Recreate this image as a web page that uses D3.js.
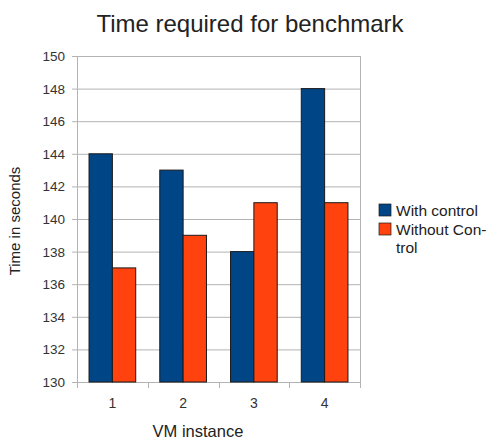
<!DOCTYPE html>
<html>
<head>
<meta charset="utf-8">
<script src="https://cdn.jsdelivr.net/npm/d3@7"></script>
<style>
  html, body { margin: 0; padding: 0; background: #fff; }
  svg { display: block; font-family: "Liberation Sans", Arial, sans-serif; }
</style>
</head>
<body>
<svg id="chart" width="493" height="441"></svg>
<script>
// Benchmark timings per VM instance
const categories = ["1", "2", "3", "4"];
const withControl = [144, 143, 138, 148];
const withoutControl = [137, 139, 141, 141];
const seriesNames = ["With control", "Without Control"];
const yTicks = [130, 132, 134, 136, 138, 140, 142, 144, 146, 148, 150];

const colors = ["#004586", "#ff420e"];
const svg = d3.select("#chart");

const plot = { left: 77, right: 360, top: 56, bottom: 382 };

const x = d3.scaleBand().domain(categories).range([plot.left, plot.right]).paddingInner(0.34).paddingOuter(0.17);
const xSub = d3.scaleBand().domain([0, 1]).range([0, x.bandwidth()]);
const y = d3.scaleLinear().domain([130, 150]).range([plot.bottom, plot.top]);

// horizontal grid with outward ticks
svg.append("g").selectAll("line").data(yTicks).join("line")
  .attr("x1", plot.left - 5).attr("x2", plot.right)
  .attr("y1", d => y(d) + 0.5).attr("y2", d => y(d) + 0.5)
  .attr("stroke", "#b3b3b3").attr("stroke-width", 1);

// vertical frame lines
[plot.left, plot.right].forEach(px => {
  svg.append("line").attr("x1", px + 0.5).attr("x2", px + 0.5)
    .attr("y1", plot.top).attr("y2", plot.bottom + 6)
    .attr("stroke", "#b3b3b3");
});

// category boundary ticks
const bounds = categories.slice(1).map(c => x(c) - x.step() * x.paddingInner() / 2);
svg.append("g").selectAll("line").data(bounds).join("line")
  .attr("x1", d => Math.round(d) + 0.5).attr("x2", d => Math.round(d) + 0.5)
  .attr("y1", plot.bottom).attr("y2", plot.bottom + 6)
  .attr("stroke", "#b3b3b3");

// y tick labels
svg.append("g").selectAll("text").data(yTicks).join("text")
  .attr("x", 65).attr("y", d => y(d) + 5)
  .attr("text-anchor", "end").attr("font-size", 13.5).attr("fill", "#333")
  .text(d => d);

// bars
const series = [withControl, withoutControl];
series.forEach((vals, si) => {
  svg.append("g").selectAll("rect").data(vals).join("rect")
    .attr("x", (d, i) => x(categories[i]) + xSub(si))
    .attr("width", xSub.bandwidth())
    .attr("y", d => y(d))
    .attr("height", d => y(130) - y(d))
    .attr("fill", colors[si])
    .attr("stroke", "#1a1a1a").attr("stroke-width", 1);
});

// x tick labels
svg.append("g").selectAll("text").data(categories).join("text")
  .attr("x", d => x(d) + x.bandwidth() / 2).attr("y", 408)
  .attr("text-anchor", "middle").attr("font-size", 14).attr("fill", "#333")
  .text(d => d);

// axis titles
svg.append("text").attr("x", 198).attr("y", 437)
  .attr("text-anchor", "middle").attr("font-size", 16.5).attr("fill", "#222")
  .text("VM instance");
svg.append("text")
  .attr("transform", "translate(20," + ((plot.top + plot.bottom) / 2 + 2) + ") rotate(-90)")
  .attr("text-anchor", "middle").attr("font-size", 15).attr("fill", "#222")
  .text("Time in seconds");

// title
svg.append("text").attr("x", 250).attr("y", 32)
  .attr("text-anchor", "middle").attr("font-size", 24).attr("fill", "#222")
  .text("Time required for benchmark");

// legend
const legend = svg.append("g");
const legendLines = [["With control"], ["Without Con-", "trol"]];
const legendY = [212, 231];
legendLines.forEach((lines, i) => {
  legend.append("rect")
    .attr("x", 379).attr("y", legendY[i] - 8).attr("width", 12).attr("height", 12)
    .attr("fill", colors[i]).attr("stroke", "#1a1a1a").attr("stroke-width", 0.7);
  lines.forEach((t, j) => {
    legend.append("text").attr("x", 396).attr("y", legendY[i] + 4 + j * 18)
      .attr("font-size", 15.5).attr("fill", "#222").text(t);
  });
});
</script>
</body>
</html>
